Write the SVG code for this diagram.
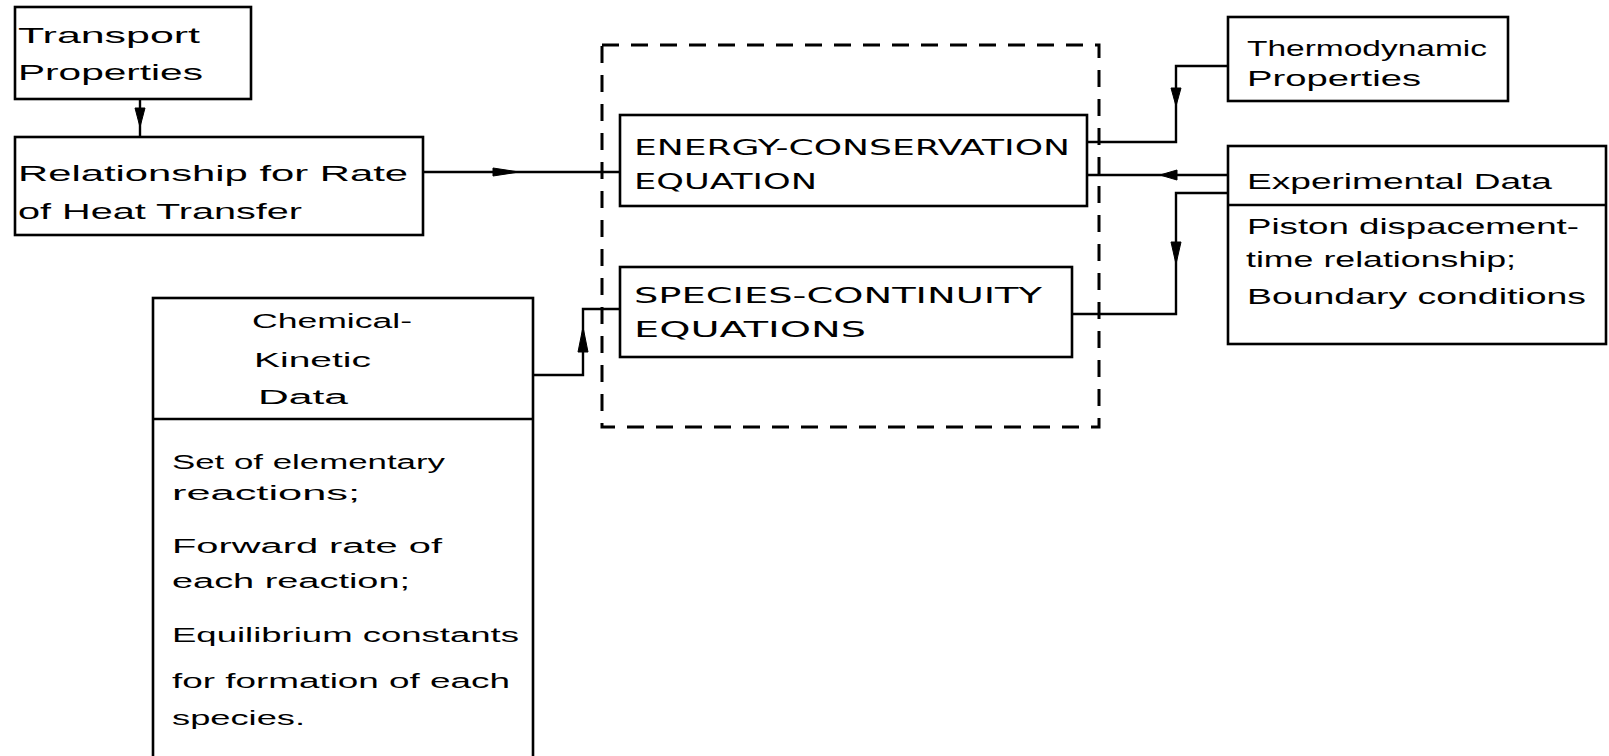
<svg xmlns="http://www.w3.org/2000/svg" width="1609" height="756" viewBox="0 0 1609 756">
<style>
.box{fill:none;stroke:#000;stroke-width:2.6}
.dash{fill:none;stroke:#000;stroke-width:3;stroke-dasharray:17 12}
.ln{fill:none;stroke:#000;stroke-width:2.4}
.ah{fill:#000;stroke:#000;stroke-width:1}
.t{font-family:"Liberation Sans",Arial,sans-serif;font-size:22px;fill:#000}
.s{font-size:20px}
.u{font-family:"DejaVu Sans","Liberation Sans",sans-serif;font-size:22px;fill:#000}
</style>
<rect width="1609" height="756" fill="#fff"/>

<g id="system-boundary">
<rect class="dash" x="602" y="45" width="497" height="382"/>
</g>

<g id="transport-properties">
<rect class="box" x="15" y="7" width="236" height="92"/>
<text class="t" x="18" y="43" textLength="182" lengthAdjust="spacingAndGlyphs">Transport</text>
<text class="t" x="18" y="80" textLength="185" lengthAdjust="spacingAndGlyphs">Properties</text>
</g>

<g id="heat-transfer">
<rect class="box" x="15" y="137" width="408" height="98"/>
<text class="t" x="18" y="181" textLength="390" lengthAdjust="spacingAndGlyphs">Relationship for Rate</text>
<text class="t" x="18" y="219" textLength="284" lengthAdjust="spacingAndGlyphs">of Heat Transfer</text>
</g>

<g id="energy-equation">
<rect class="box" x="620" y="115" width="467" height="91"/>
<text class="u" x="634" y="155" textLength="436" lengthAdjust="spacingAndGlyphs">ENERGY-CONSERVATION</text>
<text class="u" x="634" y="189" textLength="183" lengthAdjust="spacingAndGlyphs">EQUATION</text>
</g>

<g id="species-equations">
<rect class="box" x="620" y="267" width="452" height="90"/>
<text class="u" x="634" y="303" textLength="408" lengthAdjust="spacingAndGlyphs">SPECIES-CONTINUITY</text>
<text class="u" x="634" y="337" textLength="232" lengthAdjust="spacingAndGlyphs">EQUATIONS</text>
</g>

<g id="thermodynamic-properties">
<rect class="box" x="1228" y="17" width="280" height="84"/>
<text class="t" x="1247" y="56" textLength="240" lengthAdjust="spacingAndGlyphs">Thermodynamic</text>
<text class="t" x="1247" y="86" textLength="174" lengthAdjust="spacingAndGlyphs">Properties</text>
</g>

<g id="experimental-data">
<rect class="box" x="1228" y="146" width="378" height="198"/>
<line class="box" x1="1228" y1="205" x2="1606" y2="205"/>
<text class="t" x="1247" y="189" textLength="305" lengthAdjust="spacingAndGlyphs">Experimental Data</text>
<text class="t" x="1247" y="234" textLength="332" lengthAdjust="spacingAndGlyphs">Piston dispacement-</text>
<text class="t" x="1246" y="267" textLength="270" lengthAdjust="spacingAndGlyphs">time relationship;</text>
<text class="t" x="1247" y="304" textLength="339" lengthAdjust="spacingAndGlyphs">Boundary conditions</text>
</g>

<g id="chemical-kinetic-data">
<rect class="box" x="153" y="298" width="380" height="470"/>
<line class="box" x1="153" y1="419" x2="533" y2="419"/>
<text class="t s" x="252" y="328" textLength="160" lengthAdjust="spacingAndGlyphs">Chemical-</text>
<text class="t s" x="254" y="367" textLength="117" lengthAdjust="spacingAndGlyphs">Kinetic</text>
<text class="t s" x="258" y="404" textLength="90" lengthAdjust="spacingAndGlyphs">Data</text>
<text class="t s" x="172" y="469" textLength="273" lengthAdjust="spacingAndGlyphs">Set of elementary</text>
<text class="t s" x="172" y="500" textLength="188" lengthAdjust="spacingAndGlyphs">reactions;</text>
<text class="t s" x="172" y="553" textLength="270" lengthAdjust="spacingAndGlyphs">Forward rate of</text>
<text class="t s" x="172" y="588" textLength="238" lengthAdjust="spacingAndGlyphs">each reaction;</text>
<text class="t s" x="172" y="642" textLength="347" lengthAdjust="spacingAndGlyphs">Equilibrium constants</text>
<text class="t s" x="172" y="688" textLength="338" lengthAdjust="spacingAndGlyphs">for formation of each</text>
<text class="t s" x="172" y="725" textLength="133" lengthAdjust="spacingAndGlyphs">species.</text>
</g>

<g id="connectors">
<line class="ln" x1="140" y1="99" x2="140" y2="137"/>
<polygon class="ah" points="135,108 145,108 140,127"/>

<line class="ln" x1="423" y1="172" x2="620" y2="172"/>
<polygon class="ah" points="493,168 493,176 519,172"/>

<polyline class="ln" points="1228,66 1176,66 1176,142 1087,142"/>
<polygon class="ah" points="1171,88 1181,88 1176,106"/>

<line class="ln" x1="1228" y1="175" x2="1087" y2="175"/>
<polygon class="ah" points="1177,170 1177,180 1160,175"/>

<polyline class="ln" points="1228,193 1176,193 1176,314 1072,314"/>
<polygon class="ah" points="1171,242 1181,242 1176,264"/>

<polyline class="ln" points="533,375 583,375 583,309 620,309"/>
<polygon class="ah" points="578,352 588,352 583,327"/>
</g>
</svg>
